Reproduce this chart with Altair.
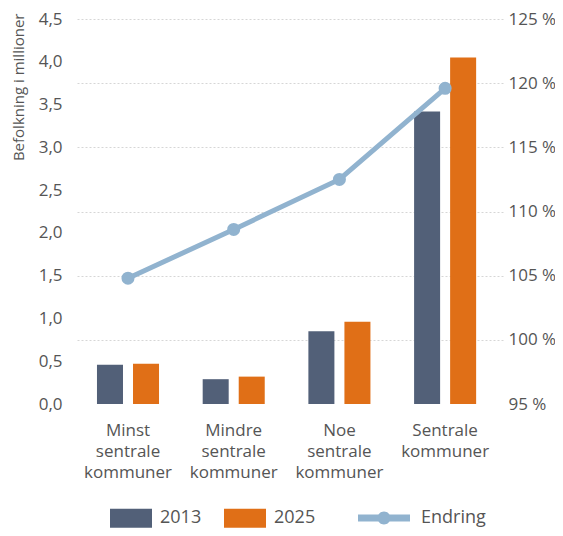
import altair as alt
import pandas as pd

categories = ["Minst sentrale kommuner", "Mindre sentrale kommuner",
              "Noe sentrale kommuner", "Sentrale kommuner"]
years = ["2013", "2025"]
pop_2013 = [0.46, 0.29, 0.85, 3.42]
pop_2025 = [0.47, 0.32, 0.96, 4.05]
endring = [104.8, 108.6, 112.5, 119.6]
left_ticks = [0.0, 0.5, 1.0, 1.5, 2.0, 2.5, 3.0, 3.5, 4.0, 4.5]
right_ticks = [95, 100, 105, 110, 115, 120, 125]

bar_rows = []
for c, a, b in zip(categories, pop_2013, pop_2025):
    bar_rows.append({"kat": c, "aar": "2013", "verdi": a})
    bar_rows.append({"kat": c, "aar": "2025", "verdi": b})
df_bars = pd.DataFrame(bar_rows)
df_line = pd.DataFrame({"kat": categories, "endring": endring, "serie": ["Endring"] * 4})

TEXT = "#555555"
FONT = "Open Sans"

x_enc = alt.X(
    "kat:N", sort=categories, title=None,
    scale=alt.Scale(paddingInner=0.413, paddingOuter=0.231, align=0.45),
    axis=alt.Axis(labelExpr="split(datum.label, ' ')", labelAngle=0, labelFontSize=17,
                  labelColor=TEXT, ticks=False, domain=False, labelPadding=18,
                  labelLineHeight=21, grid=False),
)

bars = alt.Chart(df_bars).mark_bar().encode(
    x=x_enc,
    xOffset=alt.XOffset("aar:N", sort=years,
                        scale=alt.Scale(paddingInner=0.278, paddingOuter=0)),
    y=alt.Y("verdi:Q", scale=alt.Scale(domain=[0, 4.5], nice=False),
            axis=alt.Axis(orient="left", values=left_ticks,
                          labelExpr="replace(format(datum.value, '.1f'), '.', ',')",
                          labelFontSize=17, labelColor=TEXT, ticks=False, domain=False,
                          grid=False, labelPadding=13,
                          title="Befolkning i millioner", titleFontSize=15,
                          titleFontWeight="normal", titleColor=TEXT,
                          titleAnchor="end", titleAlign="right", titleBaseline="middle",
                          titleX=-57, titleY=-6)),
    fill=alt.Fill("aar:N", sort=years,
                  scale=alt.Scale(domain=years, range=["#526078", "#e06f17"]),
                  legend=alt.Legend(title=None, orient="none", direction="horizontal",
                                    legendX=35, legendY=478,
                                    symbolType="M-1,-0.45L1,-0.45L1,0.45L-1,0.45Z",
                                    symbolSize=1764, symbolStrokeWidth=0,
                                    labelFontSize=18, labelColor=TEXT, labelOffset=8,
                                    columnPadding=22)),
)

line = alt.Chart(df_line).mark_line(strokeWidth=5, color="#91b3cf").encode(
    x=alt.X("kat:N", sort=categories),
    y=alt.Y("endring:Q", scale=alt.Scale(domain=[95, 125], nice=False),
            axis=alt.Axis(orient="right", values=right_ticks,
                          labelExpr="format(datum.value, 'd') + ' %'",
                          labelFontSize=17, labelColor=TEXT, ticks=False, domain=False,
                          labelPadding=5, title=None, grid=True,
                          gridDash=[2, 2], gridColor="#d6d6d6", gridWidth=1,
                          gridOpacity={"condition": {"test": "datum.value == 95", "value": 0},
                                       "value": 1})),
)

pts = alt.Chart(df_line).mark_circle(size=170, opacity=1).encode(
    x=alt.X("kat:N", sort=categories),
    y=alt.Y("endring:Q", scale=alt.Scale(domain=[95, 125], nice=False), axis=None),
    color=alt.Color("serie:N", scale=alt.Scale(domain=["Endring"], range=["#91b3cf"]),
                    legend=alt.Legend(title=None, orient="none", legendX=283, legendY=473,
                                      symbolType="M-1,-0.135L1,-0.135L1,0.135L-1,0.135Z M-0.25,0A0.25,0.25 0 1,1 0.25,0A0.25,0.25 0 1,1 -0.25,0Z",
                                      symbolSize=2704, symbolStrokeWidth=0,
                                      labelFontSize=18, labelColor=TEXT, labelOffset=11)),
)

chart = alt.layer(bars, line, pts).resolve_scale(
    y="independent", fill="independent", color="independent"
).properties(
    width=428, height=385,
    autosize=alt.AutoSizeParams(type="none"),
    padding={"left": 67, "top": 11, "right": 52, "bottom": 124},
).configure(font=FONT).configure_view(stroke=None)

chart.save("out.html", embed_options={"renderer": "svg", "actions": False})
